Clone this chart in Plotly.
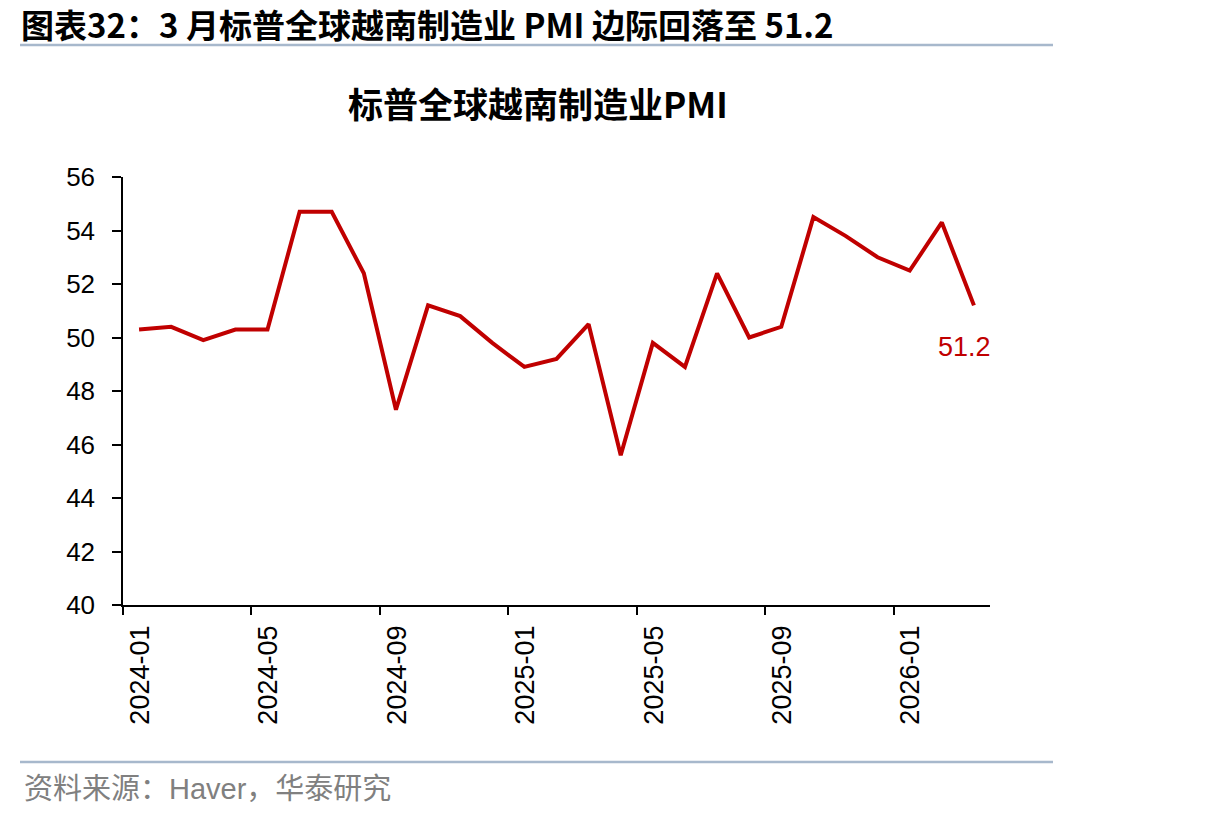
import plotly.graph_objects as go

months = ["2024-01","2024-02","2024-03","2024-04","2024-05","2024-06","2024-07","2024-08","2024-09",
          "2024-10","2024-11","2024-12","2025-01","2025-02","2025-03","2025-04","2025-05","2025-06",
          "2025-07","2025-08","2025-09","2025-10","2025-11","2025-12","2026-01","2026-02","2026-03"]
pmi = [50.3, 50.4, 49.9, 50.3, 50.3, 54.7, 54.7, 52.4, 47.3,
       51.2, 50.8, 49.8, 48.9, 49.2, 50.5, 45.6, 49.8, 48.9,
       52.4, 50.0, 50.4, 54.5, 53.8, 53.0, 52.5, 54.3, 51.2]
y_ticks = [40, 42, 44, 46, 48, 50, 52, 54, 56]
x_tick_labels = ["2024-01", "2024-05", "2024-09", "2025-01", "2025-05", "2025-09", "2026-01"]

title_text = "图表32：3 月标普全球越南制造业 PMI 边际回落至 51.2"
chart_title = "标普全球越南制造业PMI"
source_text = "资料来源：Haver，华泰研究"

W, H = 1206, 816
L, R, T, B = 123, 216, 177, 211
PW, PH = W - L - R, H - T - B

def px(x):
    return (x - L) / PW

def py(y):
    return (H - B - y) / PH

FONT = "Liberation Sans, Arial, Noto Sans CJK SC"
RED = "#C00000"

xi = list(range(len(months)))
tick_pos = [months.index(m) - 0.5 for m in x_tick_labels]

fig = go.Figure()
fig.add_trace(go.Scatter(x=xi, y=pmi, mode="lines", line=dict(color=RED, width=4),
                         hoverinfo="skip", showlegend=False))

fig.add_annotation(x=xi[-1], y=pmi[-1], xref="x", yref="y", text=f"{pmi[-1]:.1f}",
                   showarrow=False, yshift=-42, xshift=-9,
                   font=dict(family=FONT, size=27, color=RED))

fig.update_layout(
    width=W, height=H,
    margin=dict(l=L, r=R, t=T, b=B),
    paper_bgcolor="white", plot_bgcolor="white",
    font=dict(family=FONT, size=27, color="black"),
    xaxis=dict(range=[-0.5, len(months) - 0.5], tickmode="array", tickvals=tick_pos,
               ticktext=x_tick_labels, tickangle=-90, ticks="outside", ticklen=8,
               tickwidth=1.5, tickcolor="black", showline=True, linecolor="black",
               linewidth=1.5, showgrid=False, zeroline=False, ticklabelshift=17,
               tickfont=dict(family=FONT, size=27, color="black")),
    yaxis=dict(range=[40, 56], tickmode="array", tickvals=y_ticks, ticks="outside",
               ticklen=9, tickwidth=1.5, tickcolor="black", showline=True,
               linecolor="black", linewidth=1.5, showgrid=False, zeroline=False,
               ticklabelstandoff=12,
               tickfont=dict(family=FONT, size=26, color="black")),
)

fig.add_annotation(x=px(20), y=py(24), xref="paper", yref="paper", xanchor="left",
                   yanchor="middle", text=f"<b>{title_text}</b>", showarrow=False,
                   borderpad=0,
                   font=dict(family="Noto Sans CJK SC, Liberation Sans", size=33, color="black"))
fig.add_annotation(x=px(538), y=py(103), xref="paper", yref="paper", xanchor="center",
                   yanchor="middle", text=f"<b>{chart_title}</b>", showarrow=False,
                   font=dict(family="Noto Sans CJK SC, Liberation Sans", size=35, color="black"))
fig.add_annotation(x=px(22), y=py(789), xref="paper", yref="paper", xanchor="left",
                   yanchor="middle", text=source_text, showarrow=False,
                   font=dict(family="Liberation Sans, Noto Sans CJK SC", size=29, color="#808080"))

for yy in (45, 762):
    fig.add_shape(type="line", xref="paper", yref="paper", x0=px(20), x1=px(1053),
                  y0=py(yy), y1=py(yy), line=dict(color="#A7B8CC", width=2.5))

fig.write_html("out.html")
